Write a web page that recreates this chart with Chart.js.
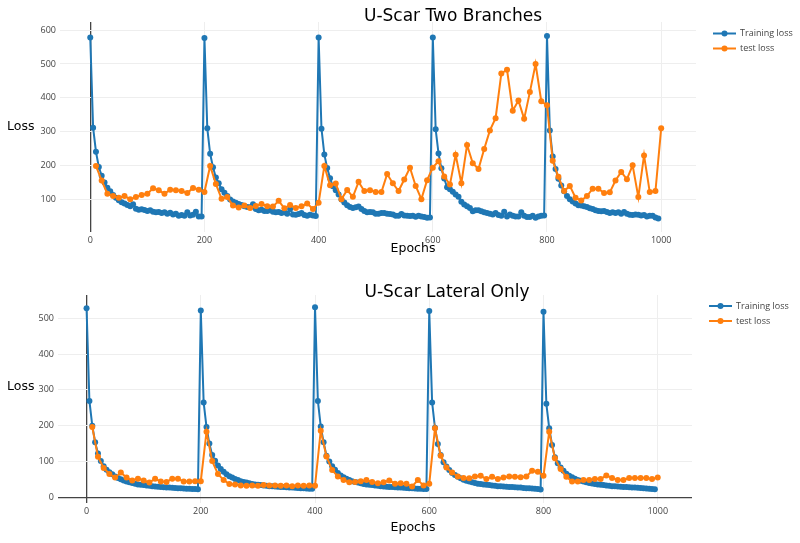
<!DOCTYPE html>
<html>
<head>
<meta charset="utf-8">
<script src="https://cdn.jsdelivr.net/npm/chart.js@4.4.0/dist/chart.umd.min.js"></script>
<style>
  html, body { margin: 0; padding: 0; background: #fff; }
  #wrap { position: relative; width: 800px; height: 543px; }
  canvas { position: absolute; left: 0; }
</style>
</head>
<body>
<div id="wrap">
  <canvas id="chartTop" width="800" height="270" style="top:0"></canvas>
  <canvas id="chartBottom" width="800" height="273" style="top:270px"></canvas>
</div>

<script>
    // Épocas: training cada 5 (desde 0), test cada 10 (desde 10)
    const trainStep = 5;
    const testStep = 10;
    const xTicks = [0, 200, 400, 600, 800, 1000];
    const yTicksTop = [100, 200, 300, 400, 500, 600];
    const yTicksBottom = [0, 100, 200, 300, 400, 500];

    // U-Scar Two Branches
    const trainTwoBranches = [
        578, 312, 241, 196, 170, 150, 135, 124, 113, 105,
        98, 92, 88, 84, 80, 86, 73, 70, 71, 69,
        66, 68, 64, 62, 63, 60, 62, 58, 61, 56,
        58, 52, 54, 52, 62, 53, 55, 64, 50, 50,
        577, 310, 235, 195, 165, 148, 130, 120, 110, 100,
        94, 90, 87, 84, 80, 78, 77, 86, 72, 68,
        70, 66, 66, 68, 64, 62, 63, 60, 62, 58,
        72, 56, 55, 57, 60, 54, 52, 55, 53, 51,
        578, 309, 233, 193, 163, 139, 127, 115, 100, 91,
        83, 78, 75, 77, 79, 72, 66, 62, 63, 62,
        58, 58, 60, 60, 58, 57, 56, 52, 52, 57,
        53, 52, 51, 52, 49, 52, 50, 48, 46, 47,
        578, 307, 236, 192, 162, 136, 130, 123, 115, 108,
        93, 85, 80, 75, 65, 68, 68, 65, 62, 60,
        58, 56, 60, 54, 52, 64, 50, 56, 52, 50,
        50, 62, 52, 48, 48, 52, 46, 50, 52, 53,
        583, 304, 227, 190, 161, 141, 124, 110, 101, 94,
        88, 83, 82, 80, 78, 74, 72, 68, 66, 65,
        66, 63, 60, 62, 60, 62, 58, 63, 58, 55,
        54, 56, 55, 53, 54, 50, 52, 52, 47, 44
    ];
    const testTwoBranches = [
        199, 156, 117, 110, 105, 110, 101, 107, 113, 117, 133, 127, 117, 129, 127, 125, 119, 134, 129, 122,
        199, 146, 102, 107, 82, 76, 82, 75, 81, 87, 80, 79, 96, 74, 84, 75, 80, 88, 72, 90,
        199, 142, 147, 101, 128, 108, 152, 125, 127, 122, 122, 175, 148, 125, 159, 194, 140, 101, 157, 194,
        213, 168, 144, 232, 148, 261, 207, 190, 249, 304, 340, 472, 483, 362, 392, 338, 417, 500, 390, 378,
        214, 167, 125, 140, 105, 97, 110, 132, 132, 119, 121, 156, 181, 160, 201, 107, 230, 122, 125, 310
    ];

    // U-Scar Lateral Only
    const trainLateral = [
        528, 269, 200, 154, 122, 101, 87, 77, 70, 64,
        58, 54, 50, 47, 44, 42, 40, 38, 36, 35,
        34, 33, 32, 31, 30, 29.5, 29, 28, 27.5, 27,
        26.5, 26, 25.5, 25, 24.5, 24, 23.5, 23, 23, 22.5,
        522, 265, 196, 150, 118, 102, 89, 79, 71, 64,
        59, 55, 51, 48, 45, 43, 41, 39, 37, 36,
        35, 34, 33, 32, 31, 30.5, 30, 29.5, 29, 28.5,
        28, 27.5, 27, 26.5, 26, 25.5, 25, 24.5, 24, 24,
        531, 269, 198, 154, 116, 100, 87, 77, 68, 61,
        56, 52, 48, 45, 43, 41, 39, 37, 36, 35,
        34, 33, 32, 31, 30, 29.5, 29, 28.5, 28, 27.5,
        27, 26.5, 26, 25.5, 25, 24.5, 24, 23.5, 23, 23,
        520, 265, 194, 149, 118, 98, 86, 76, 68, 62,
        57, 53, 49, 46, 44, 42, 40, 38, 37, 36,
        35, 34, 33, 32, 31, 30.5, 30, 29.5, 29, 28.5,
        28, 27.5, 27, 26, 25.5, 25, 24.5, 24, 23, 22,
        518, 261, 193, 146, 112, 95, 83, 74, 66, 60,
        56, 52, 48, 46, 44, 42, 40, 38.5, 37, 36,
        35, 34, 33, 32, 31, 30.5, 30, 29.5, 29, 28.5,
        28, 27.5, 27, 26.5, 26, 25, 24.5, 24, 23, 22.5
    ];
    const testLateral = [
        196, 113, 82, 65, 55, 69, 55, 47, 52, 47, 41, 52, 44, 43, 52, 52, 44, 44, 45, 45,
        183, 101, 65, 48, 37, 36, 33, 32, 33, 32, 34, 33, 33, 32, 33, 31, 33, 32, 33, 32,
        186, 114, 76, 58, 48, 42, 43, 45, 48, 43, 39, 42, 47, 38, 39, 38, 30, 48, 33, 38,
        193, 116, 83, 69, 58, 54, 53, 58, 60, 51, 57, 51, 55, 58, 57, 56, 58, 74, 71, 60,
        183, 109, 79, 57, 44, 44, 48, 48, 51, 51, 61, 54, 48, 48, 54, 54, 54, 54, 51, 55
    ];

    const azul = '#1f77b4';
    const naranja = '#ff7f0e';

    Chart.defaults.font.family = '"Open Sans", sans-serif';

    // Títulos, etiquetas de ejes y leyenda al estilo plotly
    const textosPlugin = {
        id: 'textos',
        afterDraw(chart, args, opts) {
            const c = chart.ctx;
            c.save();
            c.fillStyle = '#000';
            c.textBaseline = 'alphabetic';
            c.font = '17px "DejaVu Sans"';
            c.textAlign = 'center';
            c.fillText(opts.title, opts.titleX, opts.titleY);
            c.font = '12.5px "DejaVu Sans"';
            c.fillText('Epochs', opts.xTitleX, opts.xTitleY);
            c.textAlign = 'left';
            c.fillText('Loss', 7, opts.yTitleY);

            // leyenda
            c.font = '9px "Open Sans"';
            c.textBaseline = 'middle';
            const orden = [1, 0]; // training primero
            orden.forEach((idx, fila) => {
                const ds = chart.data.datasets[idx];
                const y = opts.legendY + fila * 15;
                c.strokeStyle = ds.borderColor;
                c.lineWidth = 2;
                c.beginPath();
                c.moveTo(opts.legendX, y);
                c.lineTo(opts.legendX + 23, y);
                c.stroke();
                c.fillStyle = ds.borderColor;
                c.beginPath();
                c.arc(opts.legendX + 11.5, y, 3, 0, Math.PI * 2);
                c.fill();
                c.fillStyle = '#444';
                c.fillText(ds.label, opts.legendX + 27, y);
            });
            c.restore();
        }
    };

    function makeChart(id, train, test, cfg) {
        const trainData = train.map((v, i) => ({ x: i * trainStep, y: v }));
        const testData = test.map((v, i) => ({ x: (i + 1) * testStep, y: v }));
        const ctx = document.getElementById(id).getContext('2d');

        return new Chart(ctx, {
            type: 'line',
            data: {
                datasets: [
                    {
                        label: 'test loss',
                        data: testData,
                        borderColor: naranja,
                        backgroundColor: naranja,
                        borderWidth: 2,
                        pointRadius: 3,
                        pointBorderWidth: 0,
                        tension: 0,
                        order: 1
                    },
                    {
                        label: 'Training loss',
                        data: trainData,
                        borderColor: azul,
                        backgroundColor: azul,
                        borderWidth: 2,
                        pointRadius: 3,
                        pointBorderWidth: 0,
                        tension: 0,
                        order: 2
                    }
                ]
            },
            options: {
                responsive: false,
                animation: false,
                events: [],
                layout: { padding: { left: 0, right: cfg.padRight, top: cfg.padTop, bottom: 0 } },
                plugins: {
                    legend: { display: false },
                    tooltip: { enabled: false },
                    textos: cfg.textos
                },
                scales: {
                    x: {
                        type: 'linear',
                        min: cfg.xMin,
                        max: cfg.xMax,
                        afterBuildTicks: s => { s.ticks = xTicks.map(v => ({ value: v })); },
                        afterFit: s => { s.height = cfg.xAxisH; },
                        border: { display: false },
                        grid: {
                            drawTicks: false,
                            color: c => (c.tick && c.tick.value === 0) ? '#444' : '#eeeeee',
                            lineWidth: c => (c.tick && c.tick.value === 0) ? 1.3 : 1
                        },
                        ticks: {
                            padding: 3,
                            color: '#444',
                            font: { size: 9 },
                            maxRotation: 0,
                            autoSkip: false,
                            callback: v => String(v)
                        }
                    },
                    y: {
                        type: 'linear',
                        min: cfg.yMin,
                        max: cfg.yMax,
                        afterBuildTicks: s => { s.ticks = cfg.yTicks.map(v => ({ value: v })); },
                        afterFit: s => { s.width = cfg.yAxisW; },
                        border: { display: false },
                        grid: {
                            drawTicks: false,
                            color: c => (c.tick && c.tick.value === 0) ? '#444' : '#eeeeee',
                            lineWidth: c => (c.tick && c.tick.value === 0) ? 1.3 : 1
                        },
                        ticks: {
                            padding: 4,
                            color: '#444',
                            font: { size: 9 },
                            callback: v => String(v)
                        }
                    }
                }
            },
            plugins: [textosPlugin]
        });
    }

    makeChart('chartTop', trainTwoBranches, testTwoBranches, {
        padRight: 104, padTop: 22, xAxisH: 38, yAxisW: 60,
        xMin: -53, xMax: 1061, yMin: 4, yMax: 624, yTicks: yTicksTop,
        textos: {
            title: 'U-Scar Two Branches', titleX: 453, titleY: 21,
            xTitleX: 413, xTitleY: 252, yTitleY: 130,
            legendX: 713, legendY: 33.5
        }
    });

    makeChart('chartBottom', trainLateral, testLateral, {
        padRight: 108, padTop: 25, xAxisH: 40, yAxisW: 58,
        xMin: -50, xMax: 1060, yMin: -16, yMax: 565, yTicks: yTicksBottom,
        textos: {
            title: 'U-Scar Lateral Only', titleX: 447, titleY: 27,
            xTitleX: 413, xTitleY: 261, yTitleY: 120,
            legendX: 709, legendY: 36
        }
    });
</script>
</body>
</html>
